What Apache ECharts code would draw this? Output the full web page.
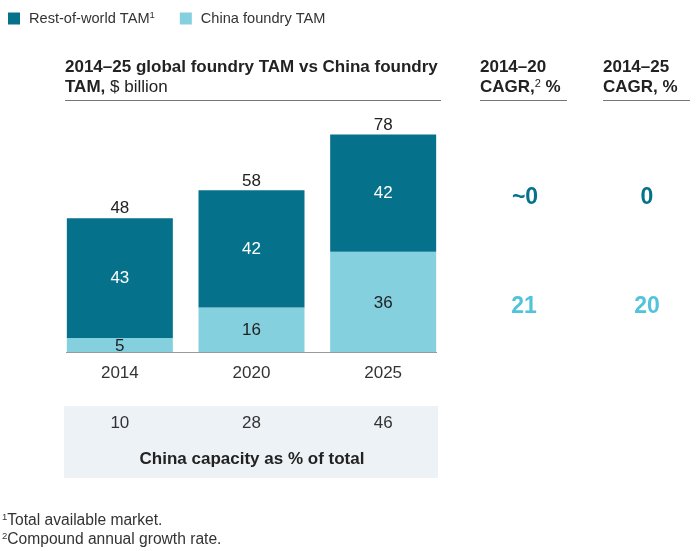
<!DOCTYPE html>
<html><head><meta charset="utf-8">
<script src="https://cdn.jsdelivr.net/npm/echarts@6/dist/echarts.min.js"></script>
<style>html,body{margin:0;padding:0;background:#fff}#c{width:697px;height:551px}</style>
</head><body><div id="c"></div>
<script>
const years = ['2014', '2020', '2025'];
const chinaTAM = [5, 16, 36];
const rowTAM = [43, 42, 42];
const totals = [48, 58, 78];
const chinaCapacity = ['10', '28', '46'];
const cagr2020 = ['~0', '21'];
const cagr2025 = ['0', '20'];

const DARK = '#06718B';
const LIGHT = '#84D0DF';
const LIGHT_TXT = '#52C3DB';
const FONT = '"Liberation Sans", Arial, sans-serif';
const FS = 17;

const chart = echarts.init(document.getElementById('c'));
chart.setOption({
  animation: false,
  textStyle: { fontFamily: FONT },
  legend: {
    left: 3, top: 5, itemWidth: 12, itemHeight: 12, itemGap: 25,
    icon: 'rect',
    formatter: function (n) { return n === 'Rest-of-world TAM¹' ? 'Rest-of-world TAM{s|1}' : n; },
    textStyle: {
      fontSize: 14.6, color: '#333', fontFamily: FONT, padding: [0, 0, 0, 4],
      rich: { s: { fontSize: 9.5, fontFamily: FONT, color: '#333', verticalAlign: 'top', padding: [0, 0, 7, 0] } }
    },
    data: ['Rest-of-world TAM¹', 'China foundry TAM']
  },
  grid: { left: 54, width: 395, top: 129, height: 223 },
  xAxis: [{
    type: 'category', data: years,
    axisLine: { show: false }, axisTick: { show: false },
    axisLabel: { fontSize: FS, color: '#333', margin: 13, fontFamily: FONT }
  }, {
    type: 'category', data: chinaCapacity, position: 'bottom', offset: 55,
    axisLine: { show: false }, axisTick: { show: false },
    axisLabel: { fontSize: FS, color: '#333', margin: 8, fontFamily: FONT }
  }],
  yAxis: { type: 'value', min: 0, max: 80, show: false, splitLine: { show: false } },
  series: [{
    name: 'China foundry TAM', type: 'bar', stack: 'tam', barWidth: 106,
    data: chinaTAM, itemStyle: { color: LIGHT },
    label: { show: true, position: 'inside', color: '#222', fontSize: FS, fontFamily: FONT, offset: [0, 1] }
  }, {
    name: 'Rest-of-world TAM¹', type: 'bar', stack: 'tam', barWidth: 106,
    data: rowTAM, itemStyle: { color: DARK },
    label: { show: true, position: 'inside', color: '#fff', fontSize: FS, fontFamily: FONT }
  }, {
    name: 'total', type: 'bar', barWidth: 106, barGap: '-100%', z: 1,
    data: totals, itemStyle: { color: 'rgba(0,0,0,0)' },
    label: { show: true, position: 'top', distance: 1, color: '#222', fontSize: FS, fontFamily: FONT }
  }],
  graphic: [
    { type: 'rect', z: -10, shape: { x: 64, y: 406, width: 374, height: 72 }, style: { fill: '#EDF2F6' } },
    { type: 'line', shape: { x1: 66, y1: 352.5, x2: 437, y2: 352.5 }, style: { stroke: '#9a9a9a', lineWidth: 1 } },
    { type: 'text', style: { text: 'China capacity as % of total', x: 252, y: 459, align: 'center', verticalAlign: 'middle', font: 'bold ' + FS + 'px ' + FONT, fill: '#222' } },
    { type: 'text', style: { x: 65, y: 67, verticalAlign: 'middle', text: '2014–25 global foundry TAM vs China foundry', font: 'bold ' + FS + 'px ' + FONT, fill: '#222' } },
    { type: 'text', style: { x: 65, y: 87, verticalAlign: 'middle', text: '{b|TAM,} $ billion', font: FS + 'px ' + FONT, fill: '#222', rich: { b: { fontWeight: 'bold', fontSize: FS, fontFamily: FONT, fill: '#222' } } } },
    { type: 'line', shape: { x1: 65, y1: 100.5, x2: 441, y2: 100.5 }, style: { stroke: '#777', lineWidth: 1 } },
    { type: 'text', style: { x: 480, y: 67, verticalAlign: 'middle', text: '2014–20', font: 'bold ' + FS + 'px ' + FONT, fill: '#222' } },
    { type: 'text', style: { x: 480, y: 87, verticalAlign: 'middle', text: 'CAGR,{s|2} %', font: 'bold ' + FS + 'px ' + FONT, fill: '#222', rich: { s: { fontSize: 11, fontFamily: FONT, verticalAlign: 'top', padding: [0, 0, 7, 0], fill: '#222' } } } },
    { type: 'line', shape: { x1: 480, y1: 100.5, x2: 567, y2: 100.5 }, style: { stroke: '#777', lineWidth: 1 } },
    { type: 'text', style: { x: 603, y: 67, verticalAlign: 'middle', text: '2014–25', font: 'bold ' + FS + 'px ' + FONT, fill: '#222' } },
    { type: 'text', style: { x: 603, y: 87, verticalAlign: 'middle', text: 'CAGR, %', font: 'bold ' + FS + 'px ' + FONT, fill: '#222' } },
    { type: 'line', shape: { x1: 603, y1: 100.5, x2: 690, y2: 100.5 }, style: { stroke: '#777', lineWidth: 1 } },
    { type: 'text', style: { x: 525, y: 198, align: 'center', verticalAlign: 'middle', text: cagr2020[0], font: 'bold 23px ' + FONT, fill: DARK } },
    { type: 'text', style: { x: 647, y: 198, align: 'center', verticalAlign: 'middle', text: cagr2025[0], font: 'bold 23px ' + FONT, fill: DARK } },
    { type: 'text', style: { x: 524, y: 307, align: 'center', verticalAlign: 'middle', text: cagr2020[1], font: 'bold 23px ' + FONT, fill: LIGHT_TXT } },
    { type: 'text', style: { x: 647, y: 307, align: 'center', verticalAlign: 'middle', text: cagr2025[1], font: 'bold 23px ' + FONT, fill: LIGHT_TXT } },
    { type: 'text', style: { x: 2, y: 521, verticalAlign: 'middle', text: '{s|1}Total available market.', font: '15.6px ' + FONT, fill: '#333', rich: { s: { fontSize: 9.5, fontFamily: FONT, verticalAlign: 'top', padding: [0, 0, 7, 0], fill: '#333' } } } },
    { type: 'text', style: { x: 2, y: 540, verticalAlign: 'middle', text: '{s|2}Compound annual growth rate.', font: '15.6px ' + FONT, fill: '#333', rich: { s: { fontSize: 9.5, fontFamily: FONT, verticalAlign: 'top', padding: [0, 0, 7, 0], fill: '#333' } } } }
  ]
});
</script>
</body></html>
